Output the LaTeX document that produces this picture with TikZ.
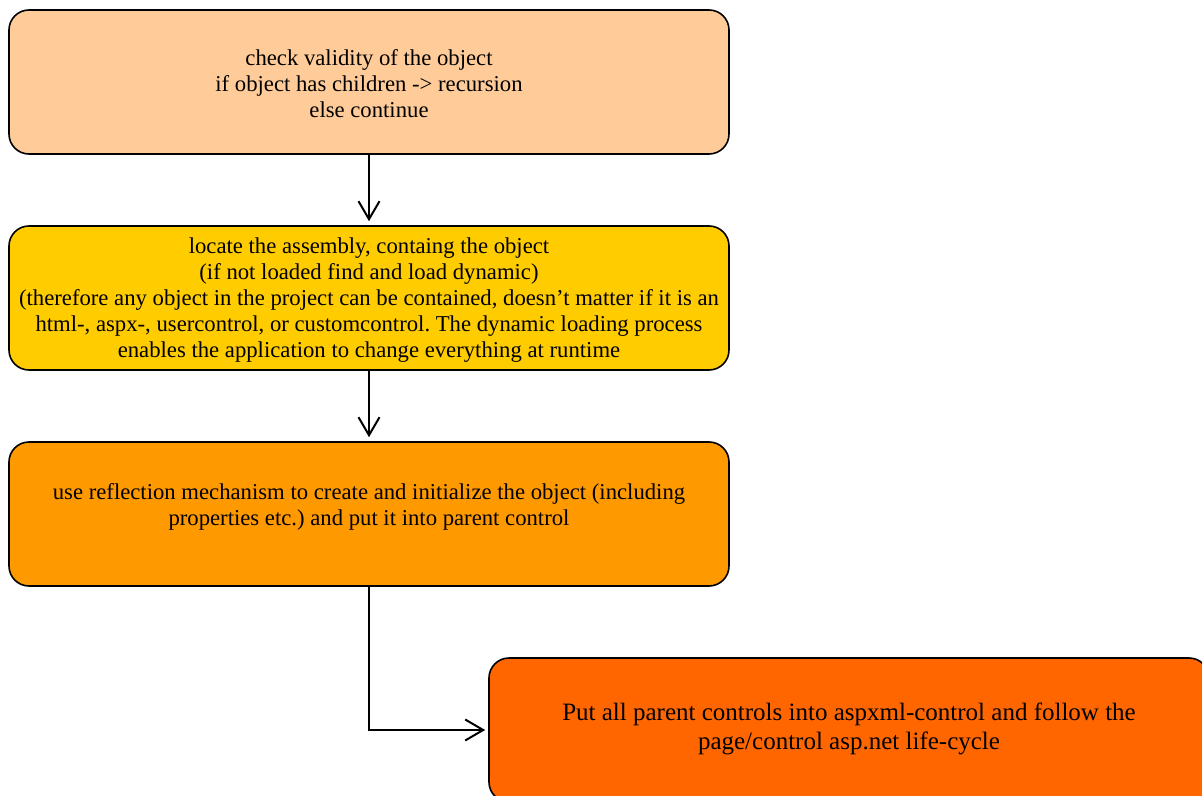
\documentclass[tikz,border=0pt]{standalone}
\usepackage{fontspec}
\setmainfont{Liberation Serif}
\usetikzlibrary{arrows.meta}
\definecolor{peach}{HTML}{FFCC99}
\definecolor{gold}{HTML}{FFCC00}
\definecolor{amber}{HTML}{FF9900}
\definecolor{deeporange}{HTML}{FF6600}
\frenchspacing
\begin{document}
\begin{tikzpicture}[x=1bp,y=-1bp,
  box/.style={draw=black, line width=1.6bp, rounded corners=20bp, minimum width=720bp, minimum height=144bp, inner sep=0pt},
  txt/.style={align=center, font=\fontsize{22.7bp}{26bp}\selectfont, inner sep=0pt},
  bigtxt/.style={align=center, font=\fontsize{25bp}{29bp}\selectfont, inner sep=0pt},
  conn/.style={line width=2bp, -{Straight Barb[length=18bp,width=21bp,line width=2bp]}}]
\useasboundingbox (0,0) rectangle (1202,796);
\clip (0,0) rectangle (1202,796);
\node[box, fill=peach] (b1) at (369,82) {};
\node[box, fill=gold] (b2) at (369,298) {};
\node[box, fill=amber] (b3) at (369,514) {};
\node[box, fill=deeporange] (b4) at (849,730) {};
\node[txt] (t1) at (369,84) {check validity of the object\\if object has children -> recursion\\else continue};
\node[txt] (t2) at (369,300) {locate the assembly, containg the object\\(if not loaded find and load dynamic)\\(therefore any object in the project can be contained, doesn’t matter if it is an\\html-, aspx-, usercontrol, or customcontrol. The dynamic loading process\\enables the application to change everything at runtime};
\node[txt] (t3) at (369,506.5) {use reflection mechanism to create and initialize the object (including\\properties etc.) and put it into parent control};
\node[bigtxt] (t4) at (849,729) {Put all parent controls into aspxml-control and follow the\\page/control asp.net life-cycle};
\draw[conn, shorten >=4bp] (b1.south) -- (b2.north);
\draw[conn, shorten >=4bp] (b2.south) -- (b3.north);
\draw[conn, shorten >=3bp] (b3.south) |- (b4.west);
\end{tikzpicture}
\end{document}
